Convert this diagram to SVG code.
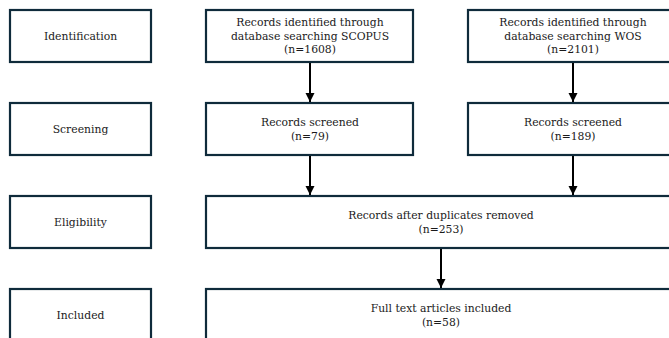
<svg xmlns="http://www.w3.org/2000/svg" width="669" height="338" viewBox="0 0 669 338">
<style>
.box{fill:#fff;stroke:#0f2b3b;stroke-width:2.2}
text{font-family:"DejaVu Serif","Liberation Serif",serif;font-size:10.8px;fill:#1a1a1a;text-anchor:middle}
.conn line{stroke:#000;stroke-width:2}
</style>
<defs>
<marker id="ah" markerUnits="userSpaceOnUse" markerWidth="10" markerHeight="10" refX="9" refY="5" orient="auto">
<path d="M0,0.5 L9,5 L0,9.5 Z" fill="#000"/>
</marker>
</defs>
<rect width="669" height="338" fill="#fff"/>
<g id="stage-identification"><rect class="box" x="10" y="10" width="141" height="52"/><text x="80.5" y="39.5">Identification</text></g>
<g id="stage-screening"><rect class="box" x="10" y="103" width="141" height="52"/><text x="80.5" y="132.5">Screening</text></g>
<g id="stage-eligibility"><rect class="box" x="10" y="196" width="141" height="52"/><text x="80.5" y="225.5">Eligibility</text></g>
<g id="stage-included"><rect class="box" x="10" y="289" width="141" height="52"/><text x="80.5" y="318.5">Included</text></g>
<g id="scopus-identified"><rect class="box" x="206" y="10" width="207" height="52"/><text x="310" y="26">Records identified through</text><text x="310" y="39.5">database searching SCOPUS</text><text x="310" y="53">(n=1608)</text></g>
<g id="wos-identified"><rect class="box" x="468" y="10" width="210" height="52"/><text x="573" y="26">Records identified through</text><text x="573" y="39.5">database searching WOS</text><text x="573" y="53">(n=2101)</text></g>
<g id="scopus-screened"><rect class="box" x="206" y="103" width="207" height="52"/><text x="310" y="125.5">Records screened</text><text x="310" y="139.5">(n=79)</text></g>
<g id="wos-screened"><rect class="box" x="468" y="103" width="210" height="52"/><text x="573" y="125.5">Records screened</text><text x="573" y="139.5">(n=189)</text></g>
<g id="after-duplicates"><rect class="box" x="206" y="196" width="470" height="52"/><text x="441" y="218.5">Records after duplicates removed</text><text x="441" y="232.5">(n=253)</text></g>
<g id="full-text-included"><rect class="box" x="206" y="289" width="470" height="52"/><text x="441" y="311.5">Full text articles included</text><text x="441" y="325.5">(n=58)</text></g>
<g class="conn" id="connectors">
<line x1="310" y1="63" x2="310" y2="102" marker-end="url(#ah)"/>
<line x1="573" y1="63" x2="573" y2="102" marker-end="url(#ah)"/>
<line x1="310" y1="156" x2="310" y2="195" marker-end="url(#ah)"/>
<line x1="573" y1="156" x2="573" y2="195" marker-end="url(#ah)"/>
<line x1="441" y1="249" x2="441" y2="288" marker-end="url(#ah)"/>
</g>
</svg>
